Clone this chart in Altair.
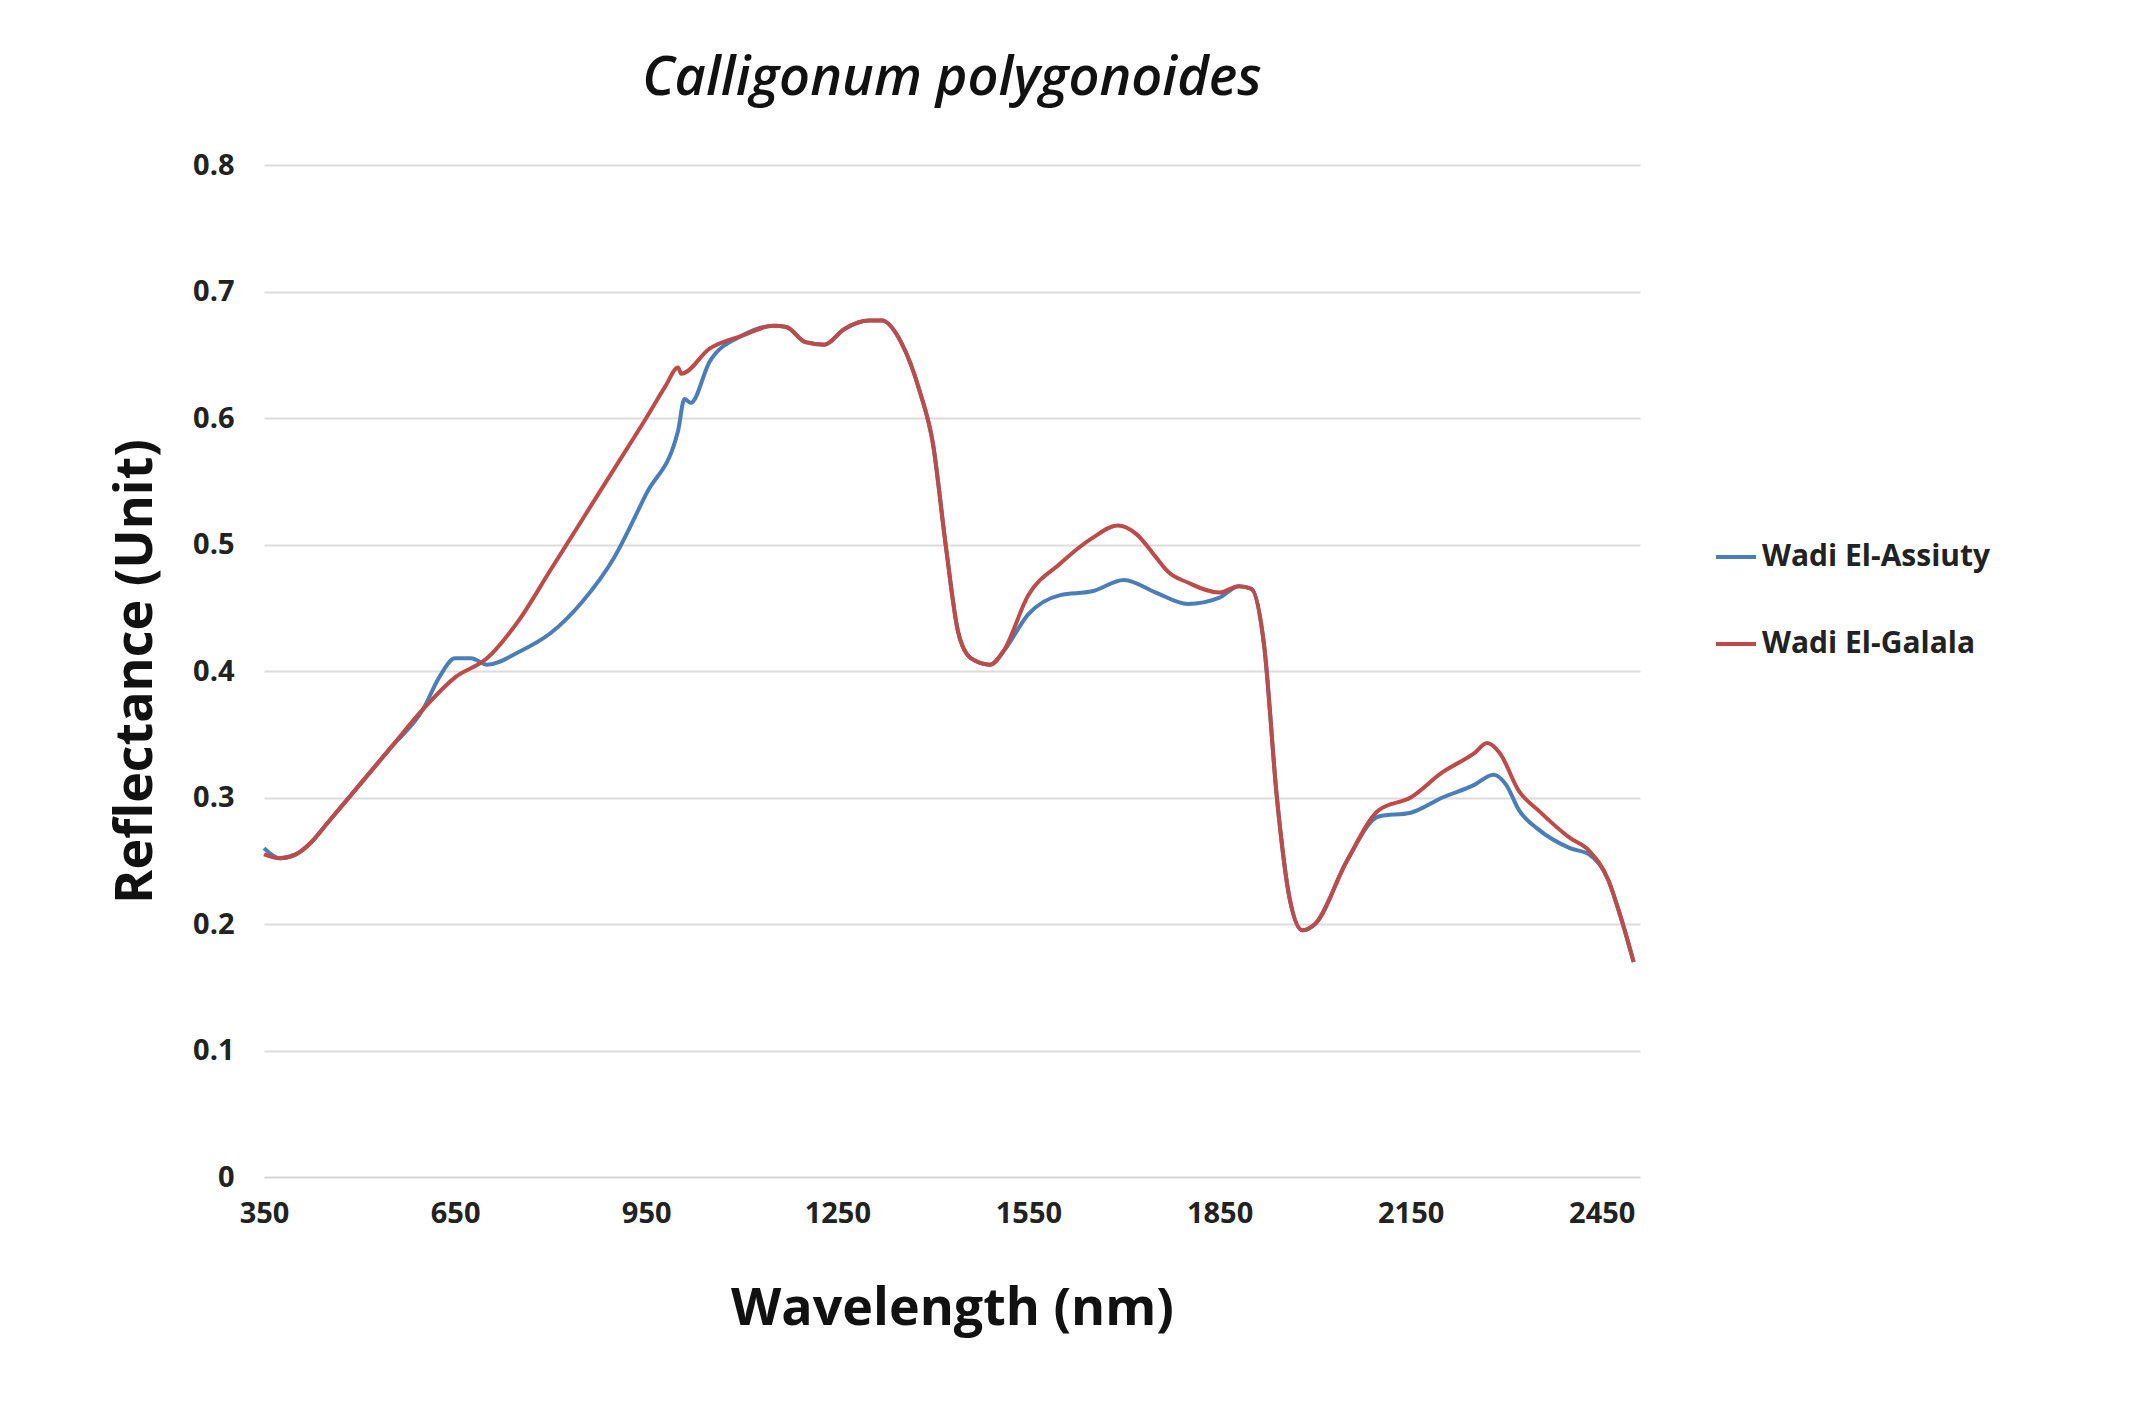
import altair as alt
import pandas as pd

wl_a = [350,375,400,425,450,500,550,600,625,650,675,700,750,800,850,900,950,1000,1010,1020,1050,1100,1150,1170,1200,1230,1260,1300,1320,1350,1380,1400,1420,1440,1460,1490,1510,1550,1600,1650,1700,1750,1800,1850,1880,1900,1920,1940,1960,1980,2000,2050,2100,2150,2200,2250,2280,2300,2320,2350,2400,2430,2460,2480,2500]
rf_a = [0.26,0.252,0.255,0.265,0.28,0.31,0.34,0.37,0.395,0.41,0.41,0.405,0.415,0.43,0.455,0.49,0.54,0.59,0.615,0.612,0.645,0.665,0.673,0.672,0.66,0.658,0.67,0.677,0.677,0.66,0.62,0.58,0.5,0.43,0.41,0.405,0.415,0.445,0.46,0.463,0.472,0.462,0.453,0.458,0.467,0.465,0.42,0.3,0.22,0.195,0.2,0.25,0.285,0.288,0.3,0.31,0.318,0.31,0.29,0.275,0.26,0.255,0.235,0.205,0.17]
wl_g = [350,375,400,425,450,500,550,600,650,700,750,800,850,900,950,980,1000,1005,1050,1100,1150,1170,1200,1230,1260,1300,1320,1350,1380,1400,1420,1440,1460,1490,1510,1550,1600,1650,1690,1720,1750,1770,1800,1850,1880,1900,1920,1940,1960,1980,2000,2050,2100,2150,2200,2250,2270,2290,2320,2350,2400,2430,2460,2480,2500]
rf_g = [0.255,0.252,0.255,0.265,0.28,0.31,0.34,0.37,0.395,0.41,0.44,0.48,0.52,0.56,0.6,0.625,0.64,0.635,0.655,0.665,0.673,0.672,0.66,0.658,0.67,0.677,0.677,0.66,0.62,0.58,0.5,0.43,0.41,0.405,0.415,0.46,0.485,0.505,0.515,0.508,0.49,0.478,0.47,0.462,0.467,0.465,0.42,0.3,0.22,0.195,0.2,0.25,0.29,0.3,0.32,0.335,0.343,0.335,0.305,0.29,0.268,0.258,0.235,0.205,0.17]

df = pd.concat([
    pd.DataFrame({"wl": wl_a, "r": rf_a, "s": "Wadi El-Assiuty"}),
    pd.DataFrame({"wl": wl_g, "r": rf_g, "s": "Wadi El-Galala"}),
])

F = "Open Sans"
chart = alt.Chart(df).mark_line(strokeWidth=4, interpolate="monotone").encode(
    x=alt.X("wl:Q", scale=alt.Scale(domain=[350, 2510], nice=False),
            axis=alt.Axis(values=[350,650,950,1250,1550,1850,2150,2450], format="d", title="Wavelength (nm)",
                          grid=False, ticks=False, domainColor="#d0d0d0", labelFontSize=29,
                          labelFontWeight="bold", labelColor="#222", labelPadding=22,
                          titleFontSize=52, titleFontWeight="bold", titlePadding=55, titleColor="#111",
                          labelFlush=False)),
    y=alt.Y("r:Q", scale=alt.Scale(domain=[0, 0.8]),
            axis=alt.Axis(values=[0,0.1,0.2,0.3,0.4,0.5,0.6,0.7,0.8], format=".1~f", title="Reflectance (Unit)",
                          gridColor="#dcdcdc", gridWidth=2, ticks=False, domain=False, labelFontSize=29,
                          labelFontWeight="bold", labelColor="#222", labelPadding=30,
                          titleFontSize=52, titleFontWeight="bold", titlePadding=30, titleColor="#111")),
    color=alt.Color("s:N", scale=alt.Scale(range=["#4a7ebb", "#be4b48"]),
                    legend=alt.Legend(title=None, orient="none", legendX=1450, legendY=370,
                                      symbolType="stroke", symbolStrokeWidth=4, symbolSize=1600,
                                      labelFontSize=30, labelFontWeight="bold", labelColor="#222",
                                      labelLimit=400, rowPadding=50)),
).properties(
    width=1376, height=1012,
    title=alt.TitleParams("Calligonum polygonoides", fontSize=54, fontStyle="italic",
                          fontWeight=600, font=F, anchor="middle", offset=45, color="#111"),
    autosize=alt.AutoSizeParams(type="none"),
    padding={"left": 256, "top": 157, "right": 490, "bottom": 220},
).configure(font=F).configure_view(stroke=None)

chart.save("out.html", embed_options={"renderer": "svg", "actions": False})
